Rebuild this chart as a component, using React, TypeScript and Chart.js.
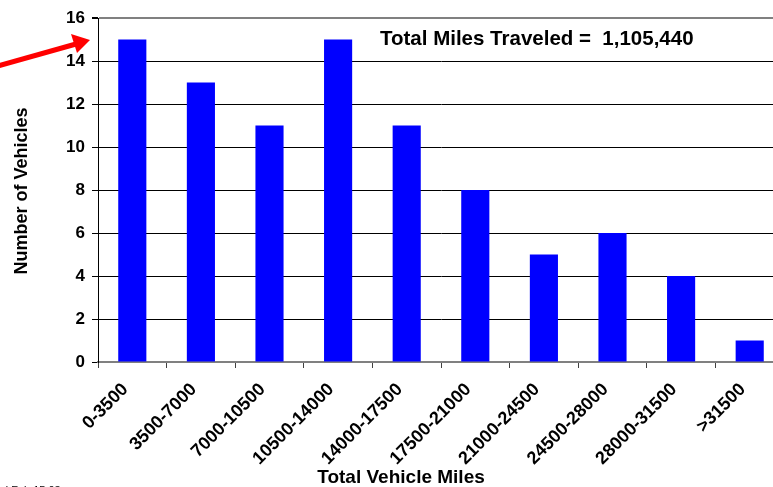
import React, { useEffect, useRef } from "react";
import { Chart, registerables } from "chart.js";

Chart.register(...registerables);

const categories = [
  "0-3500",
  "3500-7000",
  "7000-10500",
  "10500-14000",
  "14000-17500",
  "17500-21000",
  "21000-24500",
  "24500-28000",
  "28000-31500",
  ">31500",
];
const vehicleCounts = [15, 13, 11, 15, 11, 8, 5, 6, 4, 1];
const yTicks = { min: 0, max: 16, step: 2 };
const titleText = "Total Miles Traveled =  1,105,440";
const xTitle = "Total Vehicle Miles";
const yTitle = "Number of Vehicles";
const footerText = "d Feb 15 03";

const FONT = "Arial, 'Liberation Sans', sans-serif";

const overlayPlugin = {
  id: "overlay",
  afterDraw(chart: any) {
    const { ctx } = chart;
    ctx.save();
    ctx.fillStyle = "#000";
    ctx.font = `bold 20.5px ${FONT}`;
    ctx.textAlign = "left";
    ctx.textBaseline = "middle";
    ctx.fillText(titleText, 380, 39);

    ctx.save();
    ctx.translate(22, 191);
    ctx.rotate(-Math.PI / 2);
    ctx.font = `bold 18px ${FONT}`;
    ctx.textAlign = "center";
    ctx.textBaseline = "middle";
    ctx.fillText(yTitle, 0, 0);
    ctx.restore();

    ctx.font = `bold 19px ${FONT}`;
    ctx.textAlign = "center";
    ctx.textBaseline = "middle";
    ctx.fillText(xTitle, 401, 478);

    ctx.font = `11px ${FONT}`;
    ctx.textAlign = "left";
    ctx.textBaseline = "alphabetic";
    ctx.fillText(footerText, 2, 494);

    ctx.strokeStyle = "#ff0000";
    ctx.fillStyle = "#ff0000";
    ctx.lineWidth = 5;
    ctx.beginPath();
    ctx.moveTo(-2, 66);
    ctx.lineTo(76, 44);
    ctx.stroke();
    ctx.beginPath();
    ctx.moveTo(90, 40);
    ctx.lineTo(71, 34);
    ctx.lineTo(77, 53);
    ctx.closePath();
    ctx.fill();
    ctx.restore();
  },
};

export default function App() {
  const ref = useRef<HTMLCanvasElement | null>(null);
  useEffect(() => {
    if (!ref.current) return;
    const chart = new Chart(ref.current, {
      type: "bar",
      data: {
        labels: categories,
        datasets: [
          {
            data: vehicleCounts,
            backgroundColor: "#0000ff",
            borderWidth: 0,
            categoryPercentage: 1,
            barPercentage: 0.41,
          },
        ],
      },
      options: {
        responsive: false,
        animation: false,
        devicePixelRatio: 1,
        layout: { padding: { left: 0, top: 18, right: 6, bottom: 0 } },
        plugins: {
          legend: { display: false },
          tooltip: { enabled: false },
          title: { display: false },
        },
        scales: {
          x: {
            grid: {
              display: true,
              drawOnChartArea: false,
              drawTicks: true,
              tickLength: 6,
              tickColor: "#404040",
              offset: true,
            },
            border: { display: true, color: "#808080", width: 2 },
            ticks: {
              color: "#000",
              font: { family: FONT, size: 18, weight: "bold" },
              maxRotation: 45,
              minRotation: 45,
              padding: 11,
              autoSkip: false,
            },
            afterFit(scale: any) {
              scale.height = 125;
            },
            afterUpdate(scale: any) {
              if (scale.__patched) return;
              scale.__patched = true;
              const orig = scale._computeLabelItems.bind(scale);
              scale._computeLabelItems = (area: any) => {
                const items = orig(area);
                items.forEach((it: any) => {
                  if (it.options && it.options.translation) {
                    it.options.translation = [
                      it.options.translation[0] - 7,
                      it.options.translation[1],
                    ];
                  }
                });
                return items;
              };
            },
          },
          y: {
            min: yTicks.min,
            max: yTicks.max,
            ticks: {
              stepSize: yTicks.step,
              color: "#000",
              font: { family: FONT, size: 17, weight: "bold" },
              padding: 7,
            },
            grid: {
              color: (c: any) =>
                c.tick && (c.tick.value === 16 || c.tick.value === 0) ? "#808080" : "#000",
              lineWidth: (c: any) => (c.tick && c.tick.value === 16 ? 2 : 1),
              tickLength: 6,
              tickColor: "#000",
            },
            border: { display: true, color: "#000", width: 1 },
            afterFit(scale: any) {
              scale.width = 98;
            },
          },
        },
      },
      plugins: [overlayPlugin],
    });
    return () => chart.destroy();
  }, []);

  return (
    <div
      style={{
        position: "absolute",
        left: 0,
        top: 0,
        width: 773,
        height: 487,
        overflow: "hidden",
        background: "#fff",
      }}
    >
      <canvas ref={ref} width={790} height={487} style={{ display: "block" }} />
    </div>
  );
}
